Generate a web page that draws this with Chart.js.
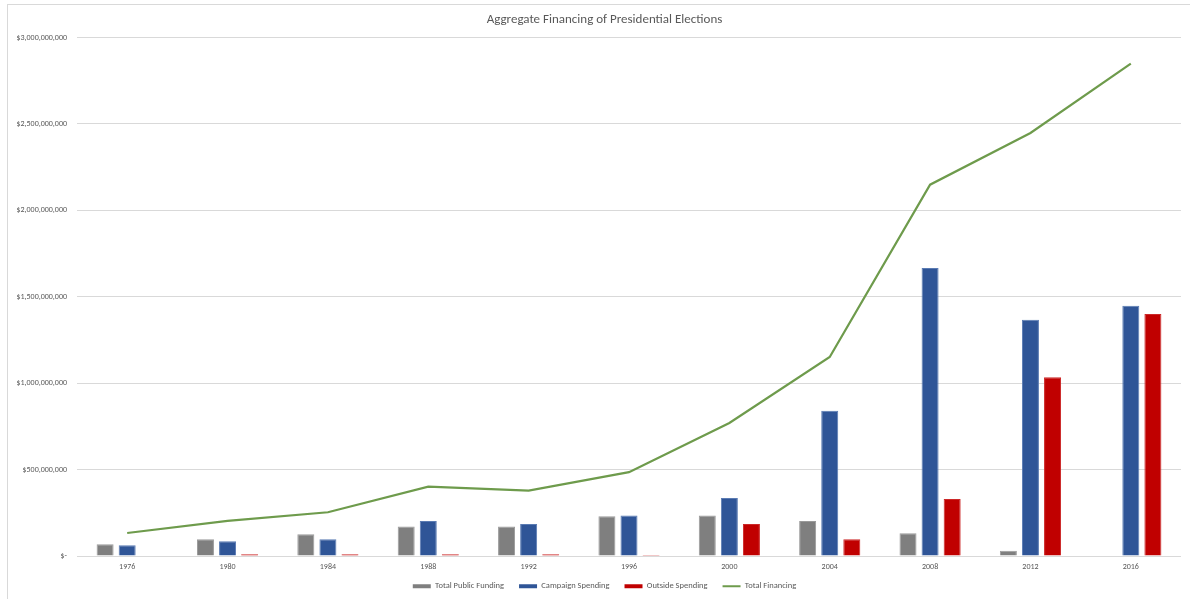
<!DOCTYPE html>
<html>
<head>
<meta charset="utf-8">
<title>Aggregate Financing of Presidential Elections</title>
<script src="https://cdn.jsdelivr.net/npm/chart.js@4/dist/chart.umd.min.js"></script>
<style>
  html, body { margin: 0; padding: 0; background: #ffffff; }
  #wrap { position: relative; width: 1190px; height: 599px; overflow: hidden; }
  #frame { position: absolute; left: 7px; top: 4px; right: -2px; bottom: -2px;
           border-top: 1px solid #d9d9d9; border-left: 1px solid #d9d9d9; pointer-events: none; }
  canvas { position: absolute; left: 0; top: 0; }
</style>
</head>
<body>
<div id="wrap">
  <canvas id="chart" width="1190" height="599"></canvas>
  <div id="frame"></div>
</div>
<script>
// Election years
const years = ['1976', '1980', '1984', '1988', '1992', '1996', '2000', '2004', '2008', '2012', '2016'];

// Dollar amounts per election cycle
const totalPublicFunding = [68e6, 97e6, 126e6, 170e6, 170e6, 230e6, 234e6, 203e6, 131e6, 31e6, 0];
const campaignSpending   = [62e6, 85e6, 97e6, 203e6, 185e6, 234e6, 336e6, 840e6, 1666e6, 1367e6, 1448e6];
const outsideSpending    = [0, 10e6, 10e6, 10e6, 10e6, 6e6, 185e6, 97e6, 330e6, 1035e6, 1400e6];
const totalFinancing     = [133e6, 203e6, 253e6, 401e6, 378e6, 485e6, 770e6, 1152e6, 2149e6, 2448e6, 2849e6];

// Value axis ticks
const yTicks = [0, 500e6, 1000e6, 1500e6, 2000e6, 2500e6, 3000e6];

const FONT = "Carlito, Lato, 'Liberation Sans', sans-serif";
const TEXT = '#595959';
const LEGEND_PAD = 15;

function money(v) {
  if (v === 0) return '$-';
  return '$' + Math.round(v).toLocaleString('en-US');
}

// Let tick labels spill outside their (fixed-size) scale boxes
function noLabelClip(scale) { scale._computeLabelArea = () => undefined; }

// Keep the legend strip compact so it sits just under the year labels
const compactLegend = {
  id: 'compactLegend',
  beforeLayout(chart) {
    const lg = chart.legend;
    if (lg && !lg._compact) {
      const fit = lg.fit;
      lg.fit = function () { fit.call(this); this.height = 32; };
      lg._compact = true;
    }
  }
};

const ctx = document.getElementById('chart').getContext('2d');
new Chart(ctx, {
  data: {
    labels: years,
    datasets: [
      {
        type: 'line', label: 'Total Financing', data: totalFinancing,
        borderColor: '#6e9b4c', backgroundColor: '#6e9b4c', borderWidth: 2.2,
        pointRadius: 0, tension: 0, order: 0
      },
      {
        type: 'bar', label: 'Total Public Funding', data: totalPublicFunding,
        backgroundColor: '#7f7f7f', borderColor: '#9a9a9a', borderWidth: 1, order: 1
      },
      {
        type: 'bar', label: 'Campaign Spending', data: campaignSpending,
        backgroundColor: '#2f5597', borderColor: '#5a7bb3', borderWidth: 1, order: 1
      },
      {
        type: 'bar', label: 'Outside Spending', data: outsideSpending,
        backgroundColor: '#c00000', borderColor: '#cc2828', borderWidth: 1, order: 1
      }
    ]
  },
  plugins: [compactLegend],
  options: {
    responsive: false,
    animation: false,
    events: [],
    datasets: { bar: { categoryPercentage: 0.66, barPercentage: 0.77 } },
    layout: { padding: { left: 28, right: 9, top: 0, bottom: 0 } },
    plugins: {
      tooltip: { enabled: false },
      title: {
        display: true,
        text: 'Aggregate Financing of Presidential Elections',
        color: TEXT,
        font: { family: FONT, size: 13, weight: 'normal' },
        padding: { top: 12, bottom: 10 }
      },
      legend: {
        position: 'bottom',
        labels: {
          color: TEXT,
          font: { family: FONT, size: 8.5 },
          usePointStyle: true,
          pointStyleWidth: 18,
          boxHeight: 4,
          padding: LEGEND_PAD,
          sort: (a, b) => {
            const rank = { 'Total Public Funding': 0, 'Campaign Spending': 1, 'Outside Spending': 2, 'Total Financing': 3 };
            return rank[a.text] - rank[b.text];
          },
          generateLabels(chart) {
            const items = Chart.defaults.plugins.legend.labels.generateLabels(chart);
            items.forEach(it => {
              const ds = chart.data.datasets[it.datasetIndex];
              if (ds.type === 'line') {
                it.lineWidth = 2; it.strokeStyle = ds.borderColor; it.pointStyle = 'line';
              } else {
                it.lineWidth = 0; it.strokeStyle = ds.backgroundColor; it.pointStyle = 'rect';
              }
            });
            return items;
          }
        }
      }
    },
    scales: {
      x: {
        afterFit: (scale) => { scale.height = 11; noLabelClip(scale); },
        grid: { display: false, drawTicks: false },
        border: { display: false },
        ticks: { color: TEXT, font: { family: FONT, size: 8 }, padding: 6, maxRotation: 0 }
      },
      y: {
        min: 0, max: 3000e6,
        afterBuildTicks: (scale) => { scale.ticks = yTicks.map(v => ({ value: v })); },
        afterFit: (scale) => { scale.width = 49; noLabelClip(scale); },
        grid: { color: '#d9d9d9', lineWidth: 1, drawTicks: false },
        border: { display: false },
        ticks: { color: TEXT, font: { family: FONT, size: 8 }, padding: 10, callback: (v) => money(v) }
      }
    }
  }
});
</script>
</body>
</html>
